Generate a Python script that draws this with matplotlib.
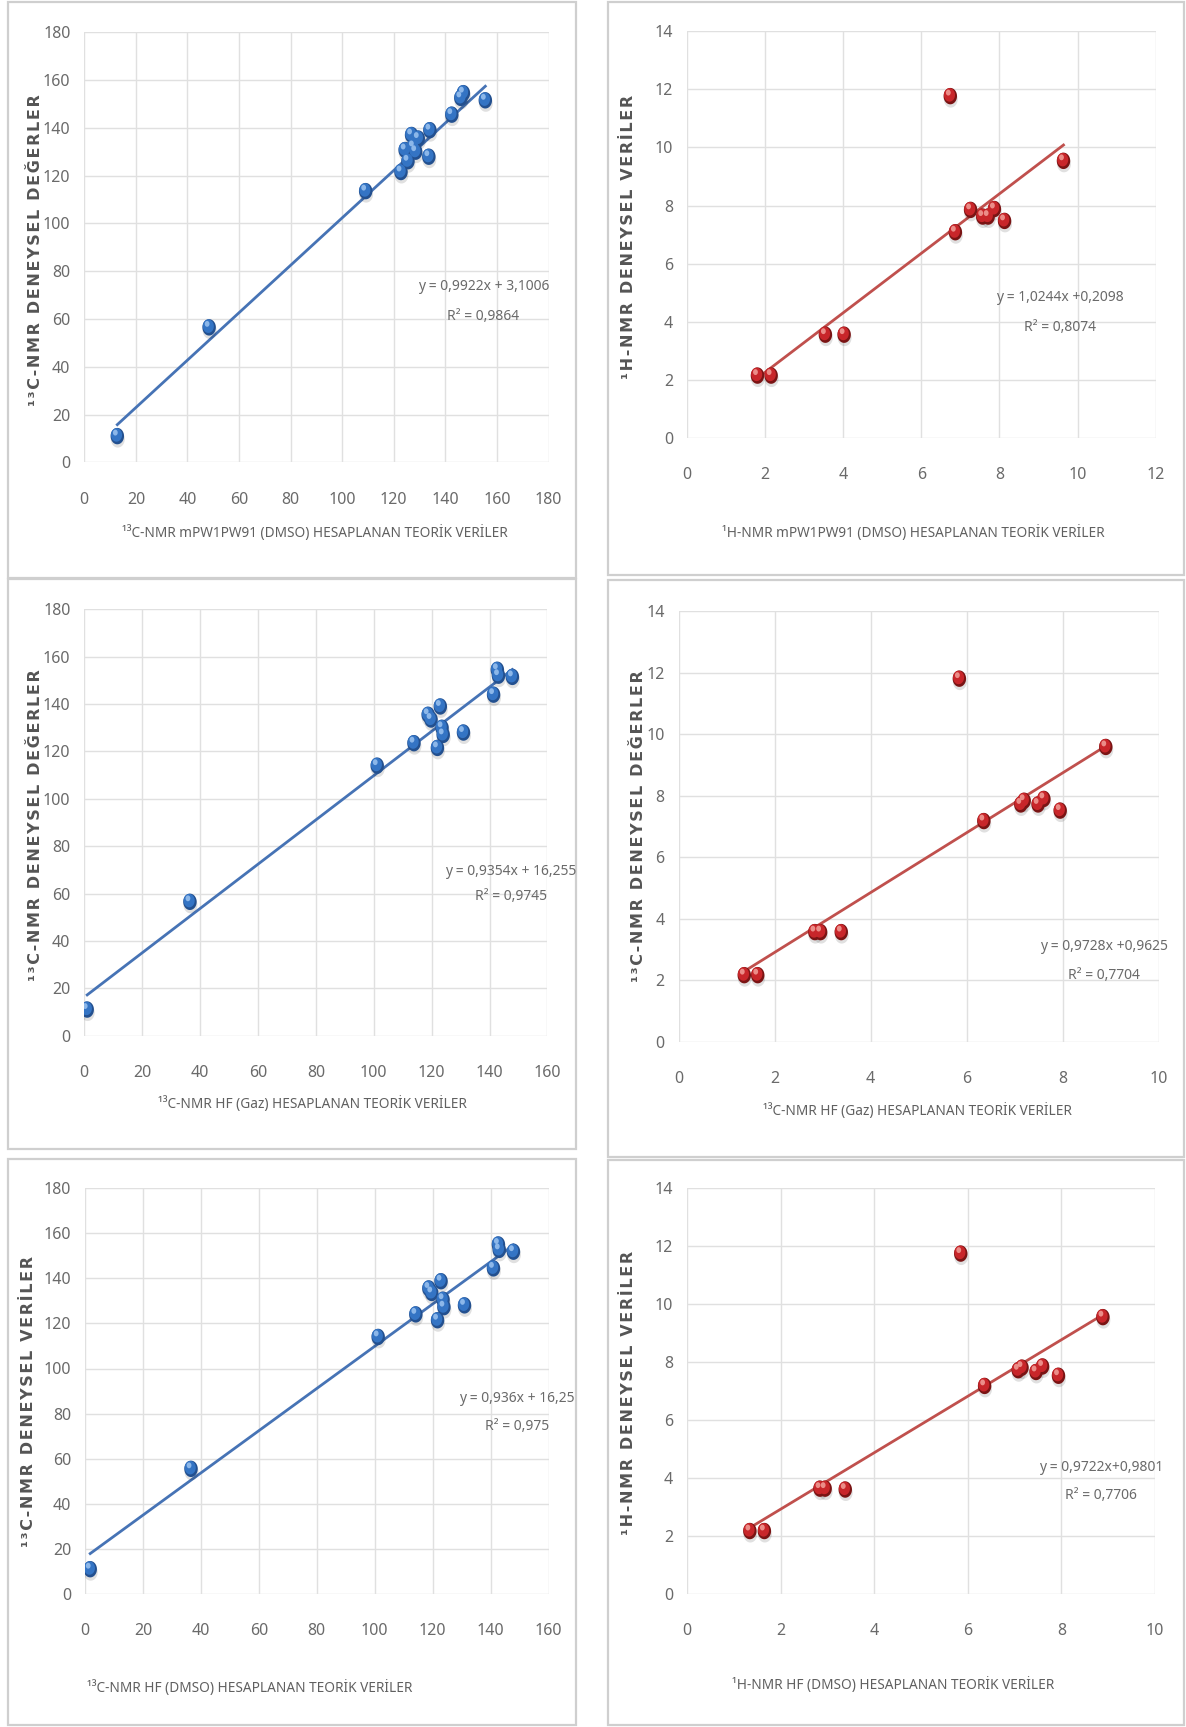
import matplotlib
matplotlib.use("Agg")
import matplotlib.pyplot as plt
import matplotlib.transforms as mtransforms
from matplotlib.patches import Rectangle
import numpy as np

# ---------------- data ----------------
c_mpw_x = [12.8, 48.4, 109.1, 122.8, 124.4, 125.5, 126.9, 127.6, 128.5, 129.5, 133.6, 134.0, 142.5, 146.0, 147.0, 155.5]
c_mpw_y = [11.0, 56.5, 113.5, 121.5, 130.7, 126.0, 137.0, 132.0, 130.0, 135.5, 127.9, 139.0, 145.5, 152.5, 154.5, 151.5]

h_mpw_x = [1.80, 2.15, 3.54, 4.02, 6.74, 6.87, 7.26, 7.57, 7.71, 7.87, 8.13, 9.64]
h_mpw_y = [2.14, 2.14, 3.55, 3.55, 11.77, 7.08, 7.85, 7.62, 7.62, 7.88, 7.47, 9.54]

c_hfg_x = [1.0, 36.5, 101.2, 113.9, 118.8, 119.8, 123.0, 122.0, 123.6, 124.0, 131.0, 141.4, 142.7, 143.1, 147.9]
c_hfg_y = [11.0, 56.5, 114.0, 123.5, 135.5, 133.5, 139.0, 121.5, 130.0, 127.0, 128.0, 144.0, 154.5, 152.0, 151.5]

h_hfg_x = [1.37, 1.65, 2.84, 2.96, 3.39, 5.85, 6.36, 7.13, 7.20, 7.49, 7.61, 7.95, 8.90]
h_hfg_y = [2.17, 2.17, 3.57, 3.57, 3.57, 11.81, 7.18, 7.72, 7.84, 7.72, 7.90, 7.52, 9.59]

c_hfd_x = [1.8, 36.6, 101.2, 114.2, 118.7, 119.7, 122.9, 121.7, 123.6, 123.9, 131.0, 141.0, 142.7, 143.0, 147.9]
c_hfd_y = [11.0, 55.5, 114.0, 124.0, 135.5, 133.5, 138.7, 121.4, 130.5, 127.2, 128.0, 144.4, 155.0, 152.6, 151.8]

h_hfd_x = [1.34, 1.65, 2.84, 2.95, 3.38, 5.85, 6.36, 7.08, 7.16, 7.46, 7.60, 7.94, 8.89]
h_hfd_y = [2.17, 2.17, 3.63, 3.63, 3.60, 11.73, 7.17, 7.71, 7.80, 7.65, 7.84, 7.52, 9.54]

slopes = [0.9922, 1.0244, 0.9354, 0.9728, 0.936, 0.9722]
intercepts = [3.1006, 0.2098, 16.255, 0.9625, 16.25, 0.9801]
eq_texts = ["y = 0,9922x + 3,1006", "y = 1,0244x +0,2098", "y = 0,9354x + 16,255",
            "y = 0,9728x +0,9625", "y = 0,936x + 16,25", "y = 0,9722x+0,9801"]
r2_texts = ["R² = 0,9864", "R² = 0,8074", "R² = 0,9745", "R² = 0,7704", "R² = 0,975", "R² = 0,7706"]

x_labels = ["¹³C-NMR mPW1PW91 (DMSO) HESAPLANAN TEORİK VERİLER",
            "¹H-NMR mPW1PW91 (DMSO) HESAPLANAN TEORİK VERİLER",
            "¹³C-NMR HF (Gaz) HESAPLANAN TEORİK VERİLER",
            "¹³C-NMR HF (Gaz) HESAPLANAN TEORİK VERİLER",
            "¹³C-NMR HF (DMSO) HESAPLANAN TEORİK VERİLER",
            "¹H-NMR HF (DMSO) HESAPLANAN TEORİK VERİLER"]
y_labels = ["¹³C-NMR DENEYSEL DEĞERLER", "¹H-NMR DENEYSEL VERİLER",
            "¹³C-NMR DENEYSEL DEĞERLER", "¹³C-NMR DENEYSEL DEĞERLER",
            "¹³C-NMR DENEYSEL VERİLER", "¹H-NMR DENEYSEL VERİLER"]

x_ticks = [list(range(0, 181, 20)), list(range(0, 13, 2)), list(range(0, 161, 20)),
           list(range(0, 11, 2)), list(range(0, 161, 20)), list(range(0, 11, 2))]
y_ticks = [list(range(0, 181, 20)), list(range(0, 15, 2)), list(range(0, 181, 20)),
           list(range(0, 15, 2)), list(range(0, 181, 20)), list(range(0, 15, 2))]

series_x = [c_mpw_x, h_mpw_x, c_hfg_x, h_hfg_x, c_hfd_x, h_hfd_x]
series_y = [c_mpw_y, h_mpw_y, c_hfg_y, h_hfg_y, c_hfd_y, h_hfd_y]

# ---------------- layout (pixels) ----------------
W, H = 1186, 1727
FONT = ['Noto Sans', 'DejaVu Sans']
plt.rcParams['font.family'] = FONT
plt.rcParams['font.stretch'] = 'condensed'

fig = plt.figure(figsize=(W / 100, H / 100), dpi=100)
fig.patch.set_facecolor('white')

axes_px = [(84.3, 548.5, 32.2, 462.4),
           (687.2, 1155.6, 31.4, 437.7),
           (84.3, 547.4, 609.4, 1035.6),
           (678.5, 1158.6, 611.3, 1041.9),
           (85.0, 548.5, 1188.1, 1594.0),
           (687.2, 1154.8, 1187.7, 1594.0)]
panel_px = [(8, 576, 2, 578), (608, 1184, 2, 575),
            (8, 576, 579, 1149), (608, 1184, 580, 1157),
            (8, 576, 1159, 1725), (608, 1184, 1160, 1725)]
eq_pos = [(154.8, 73.5, 61.1), (9.56, 4.82, 3.80), (147.3, 69.5, 58.6),
          (8.86, 3.09, 2.17), (149.2, 86.7, 74.2), (8.85, 4.36, 3.38)]
xlabel_px = [(315, 532.7), (913.7, 532.7), (312, 1104), (917.4, 1111.4), (250, 1688), (893, 1684.6)]
ylabel_px = [(35.7, 250.5), (628.9, 236.8), (35.7, 825.5), (638.3, 826.6), (28.2, 1401.6), (628.9, 1393)]

styles = {
    'blue': dict(edge='#23508f', base='#3474c4', hi='#9cc3f0', line='#4673b5'),
    'red': dict(edge='#7a1414', base='#c8262a', hi='#f2a09a', line='#c0504d'),
}
kinds = ['blue', 'red', 'blue', 'red', 'blue', 'red']

# vertically elongated ellipse marker (sphere seen through the squeezed image)
t = np.linspace(0, 2 * np.pi, 41)
ellipse = np.column_stack([0.82 * np.cos(t), np.sin(t)])

for i in range(6):
    l, r, tt, b = panel_px[i]
    fig.patches.append(Rectangle((l / W, 1 - b / H), (r - l) / W, (b - tt) / H,
                                 transform=fig.transFigure, facecolor='none',
                                 edgecolor='#cfcfcf', lw=1.6, zorder=-10))

for i in range(6):
    l, r, tt, b = axes_px[i]
    ax = fig.add_axes([l / W, 1 - b / H, (r - l) / W, (b - tt) / H])
    ax.set_facecolor('none')
    st = styles[kinds[i]]
    xt, yt = x_ticks[i], y_ticks[i]
    ax.set_xlim(xt[0], xt[-1])
    ax.set_ylim(yt[0], yt[-1])
    ax.set_xticks(xt)
    ax.set_yticks(yt)
    ax.grid(True, color='#e0e0e0', lw=1.0)
    ax.set_axisbelow(True)
    for s in ax.spines.values():
        s.set_visible(False)
    ax.tick_params(length=0, labelsize=11.5, labelcolor='#6a6a6a')
    ax.tick_params(axis='x', pad=21)
    ax.tick_params(axis='y', pad=10)

    xs = np.array(series_x[i])
    ys = np.array(series_y[i])
    lx = np.array([xs.min(), xs.max()])
    ax.plot(lx, slopes[i] * lx + intercepts[i], color=st['line'], lw=2.0, zorder=2)

    sh = mtransforms.offset_copy(ax.transData, fig=fig, x=0.5, y=-3.0, units='dots')
    off1 = mtransforms.offset_copy(ax.transData, fig=fig, x=-0.8, y=1.2, units='dots')
    off2 = mtransforms.offset_copy(ax.transData, fig=fig, x=-2.0, y=3.5, units='dots')
    ax.scatter(xs, ys, s=150, marker=ellipse, color='#000000', alpha=0.12, edgecolors='none',
               zorder=3, transform=sh)
    ax.scatter(xs, ys, s=140, marker=ellipse, color=st['edge'], edgecolors='none', zorder=3)
    ax.scatter(xs, ys, s=95, marker=ellipse, color=st['base'], edgecolors='none', zorder=4, transform=off1)
    ax.scatter(xs, ys, s=18, marker=ellipse, color=st['hi'], edgecolors='none', zorder=5,
               transform=off2, alpha=0.85)

    ex, ey1, ey2 = eq_pos[i]
    ax.text(ex, ey1, eq_texts[i], ha='center', va='center', fontsize=10, color='#6a6a6a', zorder=6)
    ax.text(ex, ey2, r2_texts[i], ha='center', va='center', fontsize=10, color='#6a6a6a', zorder=6)

for i in range(6):
    x, y = xlabel_px[i]
    fig.text(x / W, 1 - y / H, x_labels[i], ha='center', va='center', fontsize=9.8,
             color='#606060')
    x, y = ylabel_px[i]
    spaced = '\u200a'.join(y_labels[i])
    fig.text(x / W, 1 - y / H, spaced, ha='center', va='center', rotation=90,
             fontsize=11.5, fontweight='bold', color='#555555', family=['DejaVu Sans'],
             stretch='normal')

fig.savefig('out.png', dpi=100, facecolor='white')
